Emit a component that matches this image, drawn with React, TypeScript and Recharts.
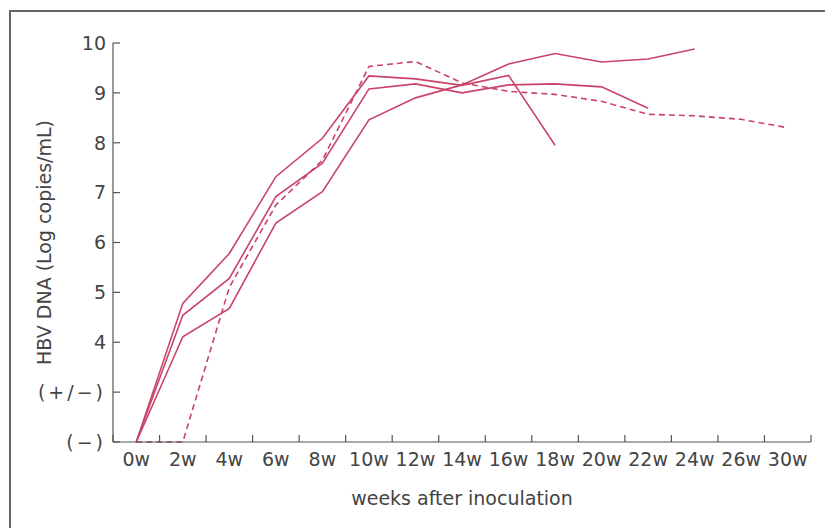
import React from 'react';
import { LineChart, Line, XAxis, YAxis, Label } from 'recharts';

// weeks after inoculation (note: 28w is not on the axis)
const WEEKS = ['0w', '2w', '4w', '6w', '8w', '10w', '12w', '14w', '16w', '18w', '20w', '22w', '24w', '26w', '30w'];

// y ticks: 2 = (−), 3 = (+/−), then log copies/mL
const Y_TICKS = [2, 3, 4, 5, 6, 7, 8, 9, 10];
const Y_LABELS = ['(−)', '(+/−)', '4', '5', '6', '7', '8', '9', '10'];

const SERIES_A = [2, 4.78, 5.78, 7.32, 8.09, 9.34, 9.28, 9.15, 9.35, 7.95, null, null, null, null, null];
const SERIES_B = [2, 4.54, 5.28, 6.92, 7.59, 9.08, 9.18, 9.0, 9.16, 9.18, 9.12, 8.69, null, null, null];
const SERIES_C = [2, 4.11, 4.68, 6.39, 7.02, 8.46, 8.9, 9.16, 9.58, 9.79, 9.62, 9.68, 9.88, null, null];
const SERIES_D = [2, 2, 5.1, 6.75, 7.65, 9.53, 9.63, 9.2, 9.03, 8.97, 8.83, 8.57, 8.54, 8.47, 8.3];

const LINE_COLOR = '#c94468';
const AXIS_COLOR = '#555';
const TEXT_COLOR = '#444';
const FONT = '"DejaVu Sans", sans-serif';

const data = WEEKS.map((week, i) => ({
  idx: i,
  week,
  a: SERIES_A[i],
  b: SERIES_B[i],
  c: SERIES_C[i],
  d: SERIES_D[i],
}));

// labels sit at band centres, tick marks at band edges
const xTicks = WEEKS.flatMap((_, i) => [i - 0.5, i]).concat(WEEKS.length - 0.5);

const XTick = (props: any) => {
  const { x, y, payload } = props;
  const v = payload.value;
  if (Number.isInteger(v)) {
    return (
      <text x={x} y={y + 24} textAnchor="middle" fill={TEXT_COLOR} fontSize={19} fontFamily={FONT}>
        {WEEKS[v]}
      </text>
    );
  }
  return <line x1={x} x2={x} y1={y} y2={y - 7} stroke={AXIS_COLOR} strokeWidth={1.2} />;
};

const YTick = (props: any) => {
  const { x, y, payload } = props;
  const label = Y_LABELS[Y_TICKS.indexOf(payload.value)];
  const wide = label.startsWith('(');
  return (
    <g>
      <line x1={x} x2={x + 7} y1={y} y2={y} stroke={AXIS_COLOR} strokeWidth={1.2} />
      <text
        x={x - 7}
        y={y}
        dy="0.36em"
        textAnchor="end"
        fill={TEXT_COLOR}
        fontSize={19}
        fontFamily={FONT}
        letterSpacing={wide ? 3 : 0}
      >
        {label}
      </text>
    </g>
  );
};

const YTitle = (props: any) => {
  const vb = props.viewBox;
  const cx = vb.x + 44;
  const cy = vb.y + vb.height / 2;
  return (
    <text
      x={cx}
      y={cy}
      dy="0.36em"
      textAnchor="middle"
      transform={`rotate(-90 ${cx} ${cy})`}
      fill={TEXT_COLOR}
      fontSize={19}
      fontFamily={FONT}
    >
      HBV DNA (Log copies/mL)
    </text>
  );
};

const XTitle = (props: any) => {
  const vb = props.viewBox;
  return (
    <text x={vb.x + vb.width / 2} y={vb.y + 63} textAnchor="middle" fill={TEXT_COLOR} fontSize={19} fontFamily={FONT}>
      weeks after inoculation
    </text>
  );
};

export default function App() {
  return (
    <div style={{ position: 'absolute', left: 0, top: 0, width: 825, height: 528, background: '#fff', overflow: 'hidden' }}>
      <div
        style={{
          position: 'absolute',
          left: 9,
          top: 10,
          width: 900,
          height: 600,
          border: '2px solid #666',
          boxSizing: 'border-box',
        }}
      />
      <div style={{ position: 'absolute', left: 0, top: 0 }}>
        <LineChart width={825} height={528} data={data} margin={{ top: 43, right: 14, left: 0, bottom: 0 }}>
          <XAxis
            dataKey="idx"
            type="number"
            domain={[-0.5, WEEKS.length - 0.5]}
            ticks={xTicks}
            interval={0}
            tick={<XTick />}
            tickLine={false}
            tickSize={0}
            tickMargin={0}
            height={86}
            axisLine={{ stroke: AXIS_COLOR, strokeWidth: 1.2 }}
          >
            <Label content={<XTitle />} />
          </XAxis>
          <YAxis
            type="number"
            domain={[2, 10]}
            ticks={Y_TICKS}
            interval={0}
            tick={<YTick />}
            tickLine={false}
            tickSize={0}
            tickMargin={0}
            width={113}
            axisLine={{ stroke: AXIS_COLOR, strokeWidth: 1.2 }}
          >
            <Label content={<YTitle />} />
          </YAxis>
          <Line dataKey="d" stroke={LINE_COLOR} strokeWidth={1.6} strokeDasharray="6 4" dot={false} isAnimationActive={false} />
          <Line dataKey="c" stroke={LINE_COLOR} strokeWidth={1.6} dot={false} isAnimationActive={false} />
          <Line dataKey="b" stroke={LINE_COLOR} strokeWidth={1.6} dot={false} isAnimationActive={false} />
          <Line dataKey="a" stroke={LINE_COLOR} strokeWidth={1.6} dot={false} isAnimationActive={false} />
        </LineChart>
      </div>
    </div>
  );
}
